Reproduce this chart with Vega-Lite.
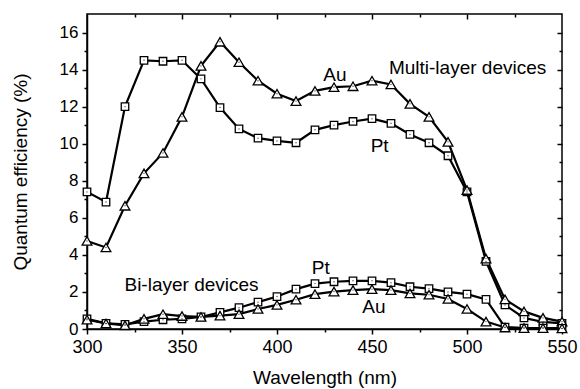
{
  "$schema": "https://vega.github.io/schema/vega-lite/v6.json",
  "width": 475,
  "height": 315,
  "autosize": "none",
  "padding": {"left": 87, "top": 14, "right": 18, "bottom": 60},
  "background": "white",
  "config": {
    "view": {"stroke": "black", "strokeWidth": 1.5},
    "font": "Liberation Sans",
    "axis": {
      "grid": false,
      "domainColor": "black",
      "domainWidth": 1.5,
      "tickColor": "black",
      "tickWidth": 1.5,
      "labelColor": "black",
      "labelFont": "Liberation Sans",
      "labelFontSize": 18,
      "titleFont": "Liberation Sans",
      "titleFontSize": 19,
      "titleFontWeight": "normal",
      "titleColor": "black",
      "labelOverlap": false,
      "labelFlush": false
    }
  },
  "datasets": {
    "curves": [
      {"wl": 300, "qe": 7.4, "series": "ML-Pt", "metal": "Pt"},
      {"wl": 310, "qe": 6.85, "series": "ML-Pt", "metal": "Pt"},
      {"wl": 320, "qe": 12.0, "series": "ML-Pt", "metal": "Pt"},
      {"wl": 330, "qe": 14.5, "series": "ML-Pt", "metal": "Pt"},
      {"wl": 340, "qe": 14.45, "series": "ML-Pt", "metal": "Pt"},
      {"wl": 350, "qe": 14.5, "series": "ML-Pt", "metal": "Pt"},
      {"wl": 360, "qe": 13.5, "series": "ML-Pt", "metal": "Pt"},
      {"wl": 370, "qe": 11.95, "series": "ML-Pt", "metal": "Pt"},
      {"wl": 380, "qe": 10.8, "series": "ML-Pt", "metal": "Pt"},
      {"wl": 390, "qe": 10.3, "series": "ML-Pt", "metal": "Pt"},
      {"wl": 400, "qe": 10.15, "series": "ML-Pt", "metal": "Pt"},
      {"wl": 410, "qe": 10.05, "series": "ML-Pt", "metal": "Pt"},
      {"wl": 420, "qe": 10.75, "series": "ML-Pt", "metal": "Pt"},
      {"wl": 430, "qe": 11.0, "series": "ML-Pt", "metal": "Pt"},
      {"wl": 440, "qe": 11.2, "series": "ML-Pt", "metal": "Pt"},
      {"wl": 450, "qe": 11.35, "series": "ML-Pt", "metal": "Pt"},
      {"wl": 460, "qe": 11.1, "series": "ML-Pt", "metal": "Pt"},
      {"wl": 470, "qe": 10.5, "series": "ML-Pt", "metal": "Pt"},
      {"wl": 480, "qe": 10.05, "series": "ML-Pt", "metal": "Pt"},
      {"wl": 490, "qe": 9.35, "series": "ML-Pt", "metal": "Pt"},
      {"wl": 500, "qe": 7.4, "series": "ML-Pt", "metal": "Pt"},
      {"wl": 510, "qe": 3.65, "series": "ML-Pt", "metal": "Pt"},
      {"wl": 520, "qe": 1.3, "series": "ML-Pt", "metal": "Pt"},
      {"wl": 530, "qe": 0.6, "series": "ML-Pt", "metal": "Pt"},
      {"wl": 540, "qe": 0.38, "series": "ML-Pt", "metal": "Pt"},
      {"wl": 550, "qe": 0.3, "series": "ML-Pt", "metal": "Pt"},
      {"wl": 300, "qe": 4.75, "series": "ML-Au", "metal": "Au"},
      {"wl": 310, "qe": 4.4, "series": "ML-Au", "metal": "Au"},
      {"wl": 320, "qe": 6.65, "series": "ML-Au", "metal": "Au"},
      {"wl": 330, "qe": 8.4, "series": "ML-Au", "metal": "Au"},
      {"wl": 340, "qe": 9.5, "series": "ML-Au", "metal": "Au"},
      {"wl": 350, "qe": 11.45, "series": "ML-Au", "metal": "Au"},
      {"wl": 360, "qe": 14.2, "series": "ML-Au", "metal": "Au"},
      {"wl": 370, "qe": 15.5, "series": "ML-Au", "metal": "Au"},
      {"wl": 380, "qe": 14.4, "series": "ML-Au", "metal": "Au"},
      {"wl": 390, "qe": 13.4, "series": "ML-Au", "metal": "Au"},
      {"wl": 400, "qe": 12.7, "series": "ML-Au", "metal": "Au"},
      {"wl": 410, "qe": 12.3, "series": "ML-Au", "metal": "Au"},
      {"wl": 420, "qe": 12.85, "series": "ML-Au", "metal": "Au"},
      {"wl": 430, "qe": 13.05, "series": "ML-Au", "metal": "Au"},
      {"wl": 440, "qe": 13.1, "series": "ML-Au", "metal": "Au"},
      {"wl": 450, "qe": 13.4, "series": "ML-Au", "metal": "Au"},
      {"wl": 460, "qe": 13.2, "series": "ML-Au", "metal": "Au"},
      {"wl": 470, "qe": 12.15, "series": "ML-Au", "metal": "Au"},
      {"wl": 480, "qe": 11.45, "series": "ML-Au", "metal": "Au"},
      {"wl": 490, "qe": 10.1, "series": "ML-Au", "metal": "Au"},
      {"wl": 500, "qe": 7.5, "series": "ML-Au", "metal": "Au"},
      {"wl": 510, "qe": 3.8, "series": "ML-Au", "metal": "Au"},
      {"wl": 520, "qe": 1.6, "series": "ML-Au", "metal": "Au"},
      {"wl": 530, "qe": 0.95, "series": "ML-Au", "metal": "Au"},
      {"wl": 540, "qe": 0.6, "series": "ML-Au", "metal": "Au"},
      {"wl": 550, "qe": 0.4, "series": "ML-Au", "metal": "Au"},
      {"wl": 300, "qe": 0.55, "series": "BL-Pt", "metal": "Pt"},
      {"wl": 310, "qe": 0.3, "series": "BL-Pt", "metal": "Pt"},
      {"wl": 320, "qe": 0.25, "series": "BL-Pt", "metal": "Pt"},
      {"wl": 330, "qe": 0.4, "series": "BL-Pt", "metal": "Pt"},
      {"wl": 340, "qe": 0.5, "series": "BL-Pt", "metal": "Pt"},
      {"wl": 350, "qe": 0.55, "series": "BL-Pt", "metal": "Pt"},
      {"wl": 360, "qe": 0.65, "series": "BL-Pt", "metal": "Pt"},
      {"wl": 370, "qe": 0.9, "series": "BL-Pt", "metal": "Pt"},
      {"wl": 380, "qe": 1.15, "series": "BL-Pt", "metal": "Pt"},
      {"wl": 390, "qe": 1.45, "series": "BL-Pt", "metal": "Pt"},
      {"wl": 400, "qe": 1.75, "series": "BL-Pt", "metal": "Pt"},
      {"wl": 410, "qe": 2.15, "series": "BL-Pt", "metal": "Pt"},
      {"wl": 420, "qe": 2.45, "series": "BL-Pt", "metal": "Pt"},
      {"wl": 430, "qe": 2.55, "series": "BL-Pt", "metal": "Pt"},
      {"wl": 440, "qe": 2.6, "series": "BL-Pt", "metal": "Pt"},
      {"wl": 450, "qe": 2.6, "series": "BL-Pt", "metal": "Pt"},
      {"wl": 460, "qe": 2.5, "series": "BL-Pt", "metal": "Pt"},
      {"wl": 470, "qe": 2.28, "series": "BL-Pt", "metal": "Pt"},
      {"wl": 480, "qe": 2.18, "series": "BL-Pt", "metal": "Pt"},
      {"wl": 490, "qe": 2.0, "series": "BL-Pt", "metal": "Pt"},
      {"wl": 500, "qe": 1.88, "series": "BL-Pt", "metal": "Pt"},
      {"wl": 510, "qe": 1.6, "series": "BL-Pt", "metal": "Pt"},
      {"wl": 520, "qe": 0.1, "series": "BL-Pt", "metal": "Pt"},
      {"wl": 530, "qe": 0.05, "series": "BL-Pt", "metal": "Pt"},
      {"wl": 540, "qe": 0.05, "series": "BL-Pt", "metal": "Pt"},
      {"wl": 550, "qe": 0.03, "series": "BL-Pt", "metal": "Pt"},
      {"wl": 300, "qe": 0.5, "series": "BL-Au", "metal": "Au"},
      {"wl": 310, "qe": 0.3, "series": "BL-Au", "metal": "Au"},
      {"wl": 320, "qe": 0.2, "series": "BL-Au", "metal": "Au"},
      {"wl": 330, "qe": 0.55, "series": "BL-Au", "metal": "Au"},
      {"wl": 340, "qe": 0.8, "series": "BL-Au", "metal": "Au"},
      {"wl": 350, "qe": 0.7, "series": "BL-Au", "metal": "Au"},
      {"wl": 360, "qe": 0.65, "series": "BL-Au", "metal": "Au"},
      {"wl": 370, "qe": 0.72, "series": "BL-Au", "metal": "Au"},
      {"wl": 380, "qe": 0.8, "series": "BL-Au", "metal": "Au"},
      {"wl": 390, "qe": 1.08, "series": "BL-Au", "metal": "Au"},
      {"wl": 400, "qe": 1.3, "series": "BL-Au", "metal": "Au"},
      {"wl": 410, "qe": 1.58, "series": "BL-Au", "metal": "Au"},
      {"wl": 420, "qe": 1.88, "series": "BL-Au", "metal": "Au"},
      {"wl": 430, "qe": 2.02, "series": "BL-Au", "metal": "Au"},
      {"wl": 440, "qe": 2.1, "series": "BL-Au", "metal": "Au"},
      {"wl": 450, "qe": 2.15, "series": "BL-Au", "metal": "Au"},
      {"wl": 460, "qe": 2.1, "series": "BL-Au", "metal": "Au"},
      {"wl": 470, "qe": 1.92, "series": "BL-Au", "metal": "Au"},
      {"wl": 480, "qe": 1.85, "series": "BL-Au", "metal": "Au"},
      {"wl": 490, "qe": 1.62, "series": "BL-Au", "metal": "Au"},
      {"wl": 500, "qe": 1.08, "series": "BL-Au", "metal": "Au"},
      {"wl": 510, "qe": 0.4, "series": "BL-Au", "metal": "Au"},
      {"wl": 520, "qe": 0.08, "series": "BL-Au", "metal": "Au"},
      {"wl": 530, "qe": 0.05, "series": "BL-Au", "metal": "Au"},
      {"wl": 540, "qe": 0.05, "series": "BL-Au", "metal": "Au"},
      {"wl": 550, "qe": 0.03, "series": "BL-Au", "metal": "Au"}
    ],
    "labels": [
      {"wl": 500.3, "qe": 14.1, "text": "Multi-layer devices"},
      {"wl": 430.5, "qe": 13.7, "text": "Au"},
      {"wl": 454, "qe": 9.9, "text": "Pt"},
      {"wl": 355, "qe": 2.4, "text": "Bi-layer devices"},
      {"wl": 423, "qe": 3.3, "text": "Pt"},
      {"wl": 451, "qe": 1.2, "text": "Au"}
    ]
  },
  "resolve": {"axis": {"x": "independent", "y": "independent"}},
  "layer": [
    {
      "data": {"name": "curves"},
      "mark": {"type": "line", "color": "black", "strokeWidth": 2.2},
      "encoding": {
        "x": {
          "field": "wl", "type": "quantitative",
          "scale": {"domain": [300, 550], "nice": false},
          "axis": {
            "orient": "bottom",
            "title": "Wavelength (nm)",
            "values": [300, 325, 350, 375, 400, 425, 450, 475, 500, 525, 550],
            "labelExpr": "datum.value % 50 === 0 ? datum.label : ''",
            "tickSize": {"condition": {"test": "datum.value % 50 === 0", "value": 5}, "value": 3},
            "labelPadding": 4,
            "titlePadding": 12
          }
        },
        "y": {
          "field": "qe", "type": "quantitative",
          "scale": {"domain": [0, 17], "nice": false},
          "axis": {
            "orient": "left",
            "title": "Quantum efficiency (%)",
            "labelFontSize": 17,
            "values": [0, 1, 2, 3, 4, 5, 6, 7, 8, 9, 10, 11, 12, 13, 14, 15, 16],
            "labelExpr": "datum.value % 2 === 0 ? datum.label : ''",
            "tickSize": {"condition": {"test": "datum.value % 2 === 0", "value": 5}, "value": 3},
            "labelPadding": 4,
            "titlePadding": 29
          }
        },
        "detail": {"field": "series"}
      }
    },
    {
      "data": {"name": "curves"},
      "mark": {"type": "point", "filled": true, "fill": "white", "stroke": "black", "strokeWidth": 1.3, "opacity": 1},
      "encoding": {
        "x": {
          "field": "wl", "type": "quantitative",
          "scale": {"domain": [300, 550], "nice": false},
          "axis": {
            "orient": "top",
            "title": null,
            "labels": false,
            "domain": false,
            "values": [325, 350, 375, 400, 425, 450, 475, 500, 525],
            "tickSize": {"condition": {"test": "datum.value % 50 === 0", "value": -5}, "value": -3}
          }
        },
        "y": {
          "field": "qe", "type": "quantitative",
          "scale": {"domain": [0, 17], "nice": false},
          "axis": {
            "orient": "right",
            "title": null,
            "labels": false,
            "domain": false,
            "values": [1, 2, 3, 4, 5, 6, 7, 8, 9, 10, 11, 12, 13, 14, 15, 16],
            "tickSize": {"condition": {"test": "datum.value % 2 === 0", "value": -5}, "value": -3}
          }
        },
        "shape": {"field": "metal", "type": "nominal", "scale": {"domain": ["Pt", "Au"], "range": ["square", "triangle-up"]}, "legend": null},
        "size": {"field": "metal", "type": "nominal", "scale": {"domain": ["Pt", "Au"], "range": [56, 95]}, "legend": null}
      }
    },
    {
      "data": {"name": "curves"},
      "mark": {"type": "point", "filled": true, "color": "black", "size": 2, "opacity": 0.7},
      "encoding": {
        "x": {"field": "wl", "type": "quantitative", "scale": {"domain": [300, 550], "nice": false}, "axis": null},
        "y": {"field": "qe", "type": "quantitative", "scale": {"domain": [0, 17], "nice": false}, "axis": null}
      }
    },
    {
      "data": {"name": "labels"},
      "mark": {"type": "text", "font": "Liberation Sans", "fontSize": 19, "color": "black", "align": "center", "baseline": "middle"},
      "encoding": {
        "x": {"field": "wl", "type": "quantitative", "scale": {"domain": [300, 550], "nice": false}, "axis": null},
        "y": {"field": "qe", "type": "quantitative", "scale": {"domain": [0, 17], "nice": false}, "axis": null},
        "text": {"field": "text"}
      }
    }
  ]
}
